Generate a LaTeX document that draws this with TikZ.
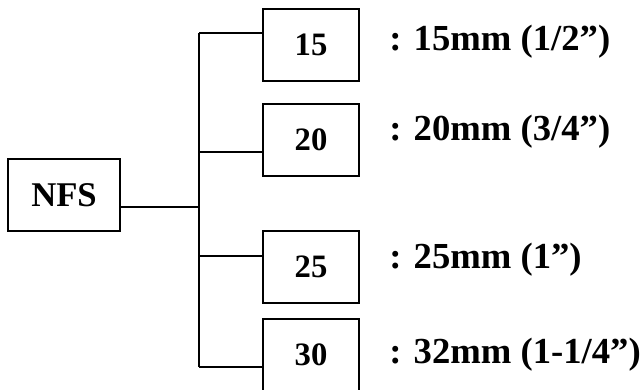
\documentclass[tikz,border=0pt]{standalone}
\usepackage{fontspec}
\setmainfont{Liberation Serif}
\begin{document}
\begin{tikzpicture}[x=0.75pt,y=-0.75pt,
  every node/.style={font=\bfseries},
  box/.style={draw,line width=1.5pt,inner sep=0pt,minimum width=96*0.75pt,minimum height=72*0.75pt,font=\fontsize{24.5}{28}\selectfont\bfseries},
  mainbox/.style={draw,line width=1.5pt,inner sep=0pt,minimum width=112*0.75pt,minimum height=72*0.75pt,font=\fontsize{26}{30}\selectfont\bfseries},
  lbl/.style={anchor=base west,inner sep=0pt,font=\fontsize{27.5}{32}\selectfont\bfseries},
  wire/.style={line width=1.5pt}]
\useasboundingbox (0,0) rectangle (641,389);
\node[mainbox] (nfs) at (64,195) {NFS};
\node[box] (b15) at (311,45) {15};
\node[box] (b20) at (311,139.5) {20};
\node[box] (b25) at (311,267) {25};
\node[box] (b30) at (311,355) {30};
\coordinate (j0) at (199,207);
\coordinate (j1) at (199,33);
\coordinate (j2) at (199,152);
\coordinate (j3) at (199,256);
\coordinate (j4) at (199,367);
\draw[wire] (nfs.east |- j0) -- (j0);
\draw[wire] (j1) -- (j4);
\draw[wire] (j1) -- (j1 -| b15.west);
\draw[wire] (j2) -- (j2 -| b20.west);
\draw[wire] (j3) -- (j3 -| b25.west);
\draw[wire] (j4) -- (j4 -| b30.west);
\node[lbl] (l15) at (389,50) {: 15mm (1/2”)};
\node[lbl] (l20) at (389,140) {: 20mm (3/4”)};
\node[lbl] (l25) at (389,268) {: 25mm (1”)};
\node[lbl] (l30) at (389,363) {: 32mm (1-1/4”)};
\end{tikzpicture}
\end{document}
